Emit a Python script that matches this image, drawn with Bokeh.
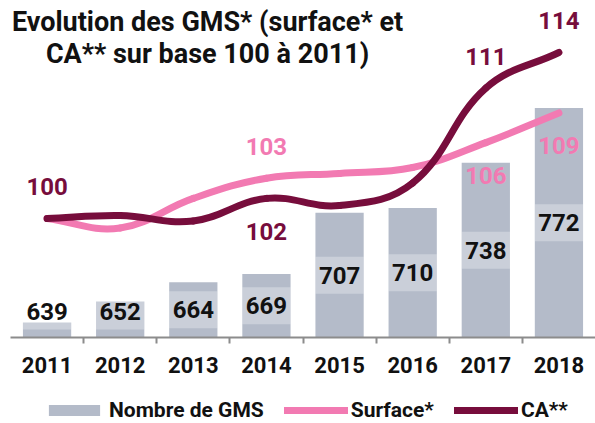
import math
from bokeh.plotting import figure
from bokeh.layouts import column
from bokeh.models import Range1d, FixedTicker, Legend, LegendItem, Label
from bokeh.core.properties import value
from bokeh.embed import file_html
from bokeh.resources import INLINE

# ---------------- data ----------------
years = ["2011", "2012", "2013", "2014", "2015", "2016", "2017", "2018"]
gms_count = [639, 652, 664, 669, 707, 710, 738, 772]
surface_index = [100.0, 99.2, 101.7, 103.4, 103.8, 104.3, 106.4, 108.9]
ca_index = [100.0, 100.25, 99.8, 101.7, 101.1, 103.0, 111.0, 114.0]

ca_label_idx = [0, 3, 6, 7]
ca_label_side = ["above", "below", "above", "above"]
surface_label_idx = [3, 6, 7]
surface_label_side = ["above", "below", "below"]

title_lines = ["Evolution des GMS* (surface* et", "CA** sur base 100 à 2011)"]
legend_labels = ["Nombre de GMS", "Surface*", "CA**"]

# ---------------- style ----------------
FONT = "Roboto"
BAR = "#b4bbc9"
PINK = "#f27ab2"
CA = "#770d3c"
TXT = "#111111"
AXIS = "#8c8c8c"

FRAME_H = 337
MAIN_H = 383
LEGEND_H = 423 - MAIN_H
GMS_MIN = 629.7
GMS_MAX = GMS_MIN + FRAME_H / 1.613
IDX_MIN = 89.97
IDX_MAX = IDX_MIN + FRAME_H / 11.86
BAR_W = 0.66

xs = list(range(len(years)))

p = figure(width=595, height=MAIN_H,
           x_range=Range1d(-0.5, 7.5), y_range=Range1d(GMS_MIN, GMS_MAX),
           output_backend="svg", toolbar_location=None,
           min_border_left=10, min_border_right=0, min_border_top=0,
           min_border_bottom=MAIN_H - FRAME_H,
           outline_line_color=None)
p.yaxis.visible = False
p.xgrid.visible = False
p.ygrid.visible = False
p.extra_y_ranges = {"idx": Range1d(IDX_MIN, IDX_MAX)}

ax = p.xaxis[0]
ax.ticker = FixedTicker(ticks=xs, minor_ticks=[i + 0.5 for i in xs[:-1]])
ax.major_label_overrides = {i: y for i, y in enumerate(years)}
ax.major_tick_out = 0
ax.major_tick_in = 0
ax.minor_tick_out = 6
ax.minor_tick_in = 0
ax.minor_tick_line_color = AXIS
ax.minor_tick_line_width = 2
ax.axis_line_color = AXIS
ax.axis_line_width = 2
ax.major_label_text_font = FONT
ax.major_label_text_font_style = "bold"
ax.major_label_text_font_size = "22px"
ax.major_label_text_color = TXT
ax.major_label_standoff = 13

# ---------------- bars ----------------
bars = p.vbar(x=xs, top=gms_count, bottom=GMS_MIN, width=BAR_W,
              fill_color=BAR, line_color=None)

px_per_gms = FRAME_H / (GMS_MAX - GMS_MIN)
min_label = GMS_MIN + 26.5 / px_per_gms
label_y = [max((GMS_MIN + v) / 2.0, min_label) for v in gms_count]
p.rect(x=xs, y=label_y, width=BAR_W, height=37, height_units="screen",
       fill_color="white", fill_alpha=0.3, line_color=None)
p.text(x=xs, y=label_y, text=[str(v) for v in gms_count],
       text_font=value(FONT), text_font_style="bold", text_font_size="24px",
       text_color=TXT, text_align="center", text_baseline="middle")

# ---------------- smooth lines ----------------
PX_X = 585 / 8.0
PX_Y = FRAME_H / (IDX_MAX - IDX_MIN)


def spline_segments(xv, yv, t=0.4):
    n = len(xv)
    X = [a * PX_X for a in xv]
    Y = [b * PX_Y for b in yv]
    prev_cp, next_cp = [], []
    for i in range(n):
        i0 = max(i - 1, 0)
        i2 = min(i + 1, n - 1)
        d01 = math.hypot(X[i] - X[i0], Y[i] - Y[i0])
        d12 = math.hypot(X[i2] - X[i], Y[i2] - Y[i])
        s = d01 + d12
        s01 = d01 / s if s else 0
        s12 = d12 / s if s else 0
        fa, fb = t * s01, t * s12
        prev_cp.append((X[i] - fa * (X[i2] - X[i0]), Y[i] - fa * (Y[i2] - Y[i0])))
        next_cp.append((X[i] + fb * (X[i2] - X[i0]), Y[i] + fb * (Y[i2] - Y[i0])))
    seg = dict(x0=[], y0=[], x1=[], y1=[], cx0=[], cy0=[], cx1=[], cy1=[])
    for i in range(n - 1):
        seg["x0"].append(xv[i]); seg["y0"].append(yv[i])
        seg["x1"].append(xv[i + 1]); seg["y1"].append(yv[i + 1])
        seg["cx0"].append(next_cp[i][0] / PX_X); seg["cy0"].append(next_cp[i][1] / PX_Y)
        seg["cx1"].append(prev_cp[i + 1][0] / PX_X); seg["cy1"].append(prev_cp[i + 1][1] / PX_Y)
    return seg


pink_r = p.bezier(**spline_segments(xs, surface_index), line_color=PINK, line_width=7,
                  line_cap="round", y_range_name="idx")
ca_r = p.bezier(**spline_segments(xs, ca_index), line_color=CA, line_width=7,
                line_cap="round", y_range_name="idx")


def add_labels(idx, sides, series, color):
    p.text(x=[xs[i] for i in idx], y=[series[i] for i in idx],
           text=[str(int(round(series[i]))) for i in idx],
           y_offset=[-32 if s == "above" else 33 for s in sides],
           text_font=value(FONT), text_font_style="bold", text_font_size="24px",
           text_color=color, text_align="center", text_baseline="middle",
           y_range_name="idx")


add_labels(surface_label_idx, surface_label_side, surface_index, PINK)
add_labels(ca_label_idx, ca_label_side, ca_index, CA)

# ---------------- title ----------------
for k, line in enumerate(title_lines):
    p.add_layout(Label(x=197, y=FRAME_H - 21 - 32 * k, x_units="screen", y_units="screen",
                       text=line, text_align="center", text_baseline="alphabetic",
                       text_font=FONT, text_font_style="bold", text_font_size="27px",
                       text_color=TXT))

# ---------------- legend strip (separate small figure under the chart) ----------------
q = figure(width=595, height=LEGEND_H, x_range=Range1d(0, 1), y_range=Range1d(0, 1),
           output_backend="svg", toolbar_location=None,
           min_border_left=0, min_border_right=0, min_border_top=0, min_border_bottom=0,
           outline_line_color=None)
q.xaxis.visible = False
q.yaxis.visible = False
q.xgrid.visible = False
q.ygrid.visible = False
# swatch renderers kept outside the visible range: they only feed the legend
sw_bar = q.vbar(x=[-5], top=[-5], bottom=[-6], width=0.1, fill_color=BAR, line_color=None)
sw_pink = q.line(x=[-6, -5], y=[-5, -5], line_color=PINK, line_width=7, line_cap="round")
sw_ca = q.line(x=[-6, -5], y=[-5, -5], line_color=CA, line_width=7, line_cap="round")

legend = Legend(items=[LegendItem(label=legend_labels[0], renderers=[sw_bar]),
                       LegendItem(label=legend_labels[1], renderers=[sw_pink]),
                       LegendItem(label=legend_labels[2], renderers=[sw_ca])],
                orientation="horizontal", location=(32, 1),
                glyph_width=64, glyph_height=14, label_standoff=3, spacing=20,
                padding=0, margin=0, border_line_color=None, background_fill_alpha=0,
                label_text_font=FONT, label_text_font_style="bold",
                label_text_font_size="21px", label_text_color=TXT)
q.add_layout(legend, "center")

layout = column(p, q, spacing=0)
open("out.html", "w").write(file_html(layout, INLINE))
